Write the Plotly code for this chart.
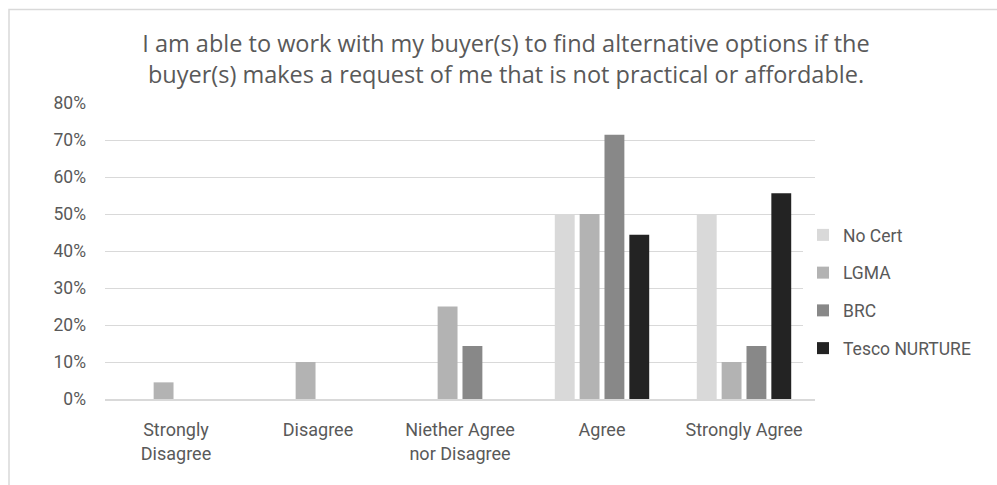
import plotly.graph_objects as go

categories = ["Strongly<br>Disagree", "Disagree", "Niether Agree<br>nor Disagree", "Agree", "Strongly Agree"]
series_names = ["No Cert", "LGMA", "BRC", "Tesco NURTURE"]
no_cert = [0, 0, 0, 0.50, 0.50]
lgma = [0.045, 0.10, 0.25, 0.50, 0.10]
brc = [0, 0, 0.143, 0.714, 0.143]
tesco = [0, 0, 0, 0.444, 0.556]
series_values = [no_cert, lgma, brc, tesco]
colors = ["#d9d9d9", "#b3b3b3", "#888888", "#232323"]
y_ticks = [0, 0.1, 0.2, 0.3, 0.4, 0.5, 0.6, 0.7, 0.8]
y_tick_labels = ["0%", "10%", "20%", "30%", "40%", "50%", "60%", "70%", "80%"]

title_text = ("I am able to work with my buyer(s) to find alternative options if the<br>"
              "buyer(s) makes a request of me that is not practical or affordable.")

W, H = 997, 485
L, R, T, B = 105, 182, 103, 86
FONT = "Roboto, sans-serif"
TITLE_FONT = "Open Sans, sans-serif"
TEXT = "#595959"

fig = go.Figure()
for i, (name, vals, col) in enumerate(zip(series_names, series_values, colors)):
    fig.add_trace(go.Bar(
        x=categories, y=vals, name=name,
        marker=dict(color=col, line=dict(width=0)),
        legendgroup=f"g{i}",
        hoverinfo="skip",
    ))

plot_w = W - L - R
plot_h = H - T - B

fig.update_layout(
    width=W, height=H,
    margin=dict(l=L, r=R, t=T, b=B),
    paper_bgcolor="white", plot_bgcolor="white",
    barmode="group", bargap=0.3, bargroupgap=0.2,
    font=dict(family=FONT, color=TEXT, size=18),
    title=dict(text=title_text, x=506 / W, xanchor="center", xref="container",
               y=1 - 52 / H, yanchor="top",
               font=dict(family=TITLE_FONT, size=23.5, color=TEXT)),
    legend=dict(x=(803 - L) / plot_w, xanchor="left",
                y=(399 - 291.5) / plot_h, yanchor="middle",
                traceorder="grouped", tracegroupgap=12,
                font=dict(family=FONT, size=17.5, color=TEXT),
                itemclick=False, itemdoubleclick=False),
    showlegend=True,
    shapes=[dict(type="rect", xref="paper", yref="paper",
                 x0=(9 - L) / plot_w, x1=(W + 20 - L) / plot_w,
                 y0=-(B + 20) / plot_h, y1=1 + (T - 9.5) / plot_h,
                 line=dict(color="#d9d9d9", width=1.5), fillcolor="rgba(0,0,0,0)",
                 layer="below")],
)

fig.update_xaxes(showgrid=False, showline=True, linecolor="#d9d9d9", linewidth=1.5,
                 ticks="", ticklabelstandoff=14,
                 tickfont=dict(family=FONT, size=18, color=TEXT), fixedrange=True)
fig.update_yaxes(range=[0, 0.8], tickvals=y_ticks, ticktext=y_tick_labels,
                 showgrid=True, gridcolor="#d9d9d9", gridwidth=1, zeroline=False,
                 showline=False, ticks="", ticklabelstandoff=18,
                 tickfont=dict(family=FONT, size=17.5, color=TEXT), fixedrange=True)

fig.write_html("out.html")
